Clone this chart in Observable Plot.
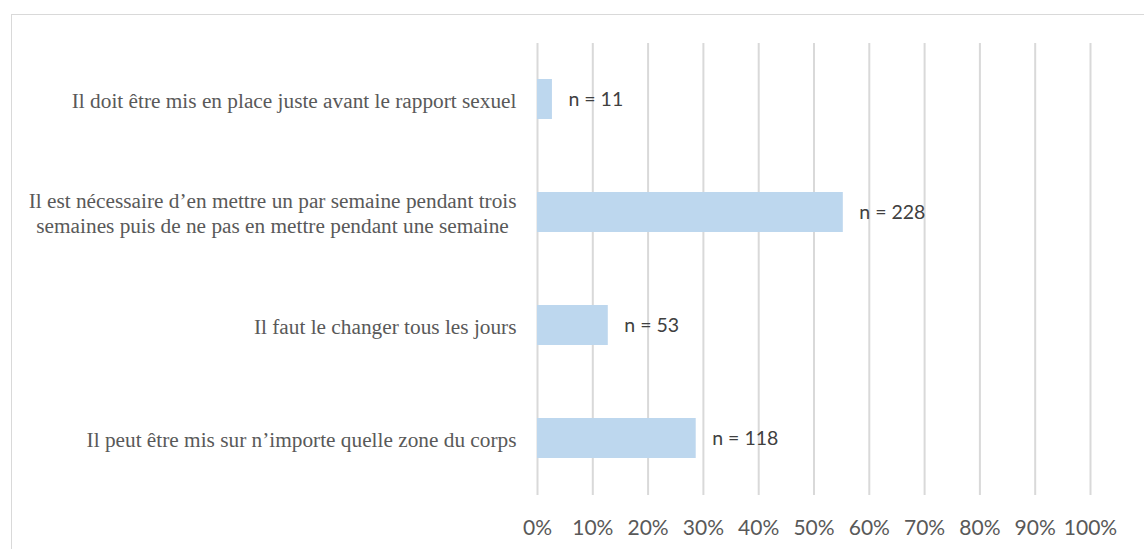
<!DOCTYPE html>
<html><head><meta charset="utf-8">
<script src="https://cdn.jsdelivr.net/npm/d3@7"></script>
<script src="https://cdn.jsdelivr.net/npm/@observablehq/plot@0.6"></script>
<style>
body{margin:0;background:#fff;}
#wrap{position:relative;width:1144px;height:549px;overflow:hidden;}
#frame{position:absolute;left:11px;top:14px;width:1200px;height:600px;border:1.5px solid #d9d9d9;box-sizing:border-box;pointer-events:none;}
#chart{position:absolute;left:0;top:0;}
</style></head><body>
<div id="wrap"><div id="chart"></div><div id="frame"></div></div>
<script>
const categories = [
  "Il doit être mis en place juste avant le rapport sexuel",
  "Il est nécessaire d’en mettre un par semaine pendant trois\nsemaines puis de ne pas en mettre pendant une semaine",
  "Il faut le changer tous les jours",
  "Il peut être mis sur n’importe quelle zone du corps"
];
const percents = [2.7, 55.3, 12.8, 28.7];
const counts = [11, 228, 53, 118];
const xTicks = [0, 10, 20, 30, 40, 50, 60, 70, 80, 90, 100];

const data = categories.map((c, i) => ({category: c, percent: percents[i], n: counts[i]}));

const chart = Plot.plot({
  width: 1144, height: 549,
  marginLeft: 537, marginRight: 54, marginTop: 43, marginBottom: 54,
  style: {background: "transparent", fontFamily: "Lato"},
  x: {domain: [0, 100], label: null},
  y: {domain: categories, paddingInner: 0.646, paddingOuter: 0.323, label: null},
  marks: [
    Plot.gridX(xTicks, {stroke: "#d9d9d9", strokeOpacity: 1, strokeWidth: 2}),
    Plot.barX(data, {x: "percent", y: "category", fill: "#bdd7ee"}),
    Plot.text(data, {x: "percent", y: "category", text: d => "n = " + d.n, textAnchor: "start", dx: 16, fill: "#404040", fontSize: 19.5, fontFamily: "Lato"}),
    Plot.axisX({ticks: xTicks, tickFormat: d => d + "%", tickSize: 0, tickPadding: 25, fontSize: 21, color: "#595959", fontFamily: "Lato"}),
    Plot.axisY({tickSize: 0, tickPadding: 21, fontSize: 21.3, fontFamily: "Liberation Serif", color: "#595959", lineHeight: 1.2})
  ]
});
document.getElementById("chart").append(chart);

// Center the lines of multi-line category labels within their right-aligned block (as in the source)
chart.querySelectorAll('g[aria-label="y-axis tick label"] text').forEach(t => {
  const spans = t.querySelectorAll("tspan");
  if (spans.length > 1) {
    const w = t.getBBox().width;
    t.setAttribute("text-anchor", "middle");
    spans.forEach(s => s.setAttribute("x", -w / 2));
  }
});
</script>
</body></html>
